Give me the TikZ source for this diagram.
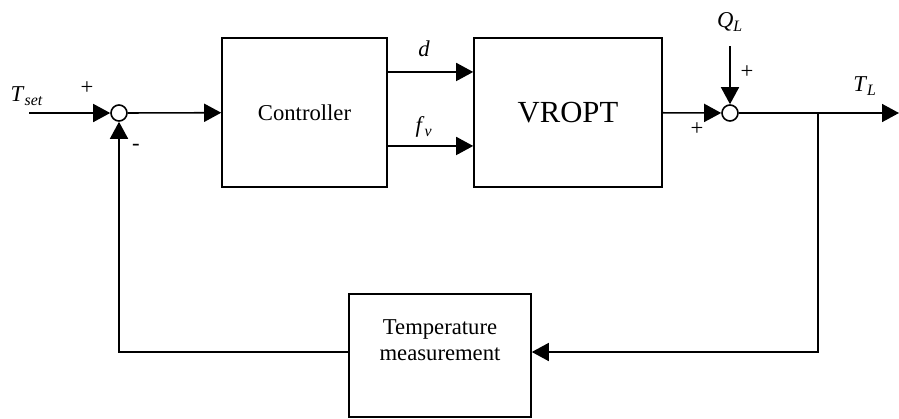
\documentclass[tikz,border=0pt]{standalone}
\usepackage{fontspec}
\setmainfont{Liberation Serif}
\usetikzlibrary{arrows.meta,positioning}
\begin{document}
\begin{tikzpicture}[x=0.75pt,y=-0.75pt,line width=1.2pt,font=\fontsize{17}{19.5}\selectfont,
  blk/.style={draw,minimum width=#1,inner sep=0pt,align=center},
  sum/.style={draw,circle,fill=white,minimum size=12pt,inner sep=0pt},
  arr/.style={-{Triangle[length=12.75pt,width=13.5pt]}}]
  \useasboundingbox (0,0) rectangle (899,418);
  \node[blk=123.75pt,minimum height=111.75pt] (ctrl) at (304.5,112.5){Controller};
  \node[blk=141pt,minimum height=111.75pt,font=\fontsize{23}{26}\selectfont] (vropt) at (568,112.5){VROPT};
  \node[blk=136.5pt,minimum height=92.25pt] (temp) at (440,355.5){Temperature\\measurement\\[4pt]};
  \node[sum] (sum1) at (119,113){};
  \node[sum] (sum2) at (730,113){};
  \coordinate (in) at (29,113);
  \coordinate (ql) at (730,46);
  \coordinate (out) at (899,113);
  \coordinate (br) at (818,113);
  \coordinate (fb) at (818,352);
  % labels
  \node (tset) at (27,96){\textit{T}\textsubscript{\textit{set}}};
  \node (dlab) at (424,49){\textit{d}};
  \node (fvlab) at (424,127){\textit{f}\textsubscript{\textit{v}}};
  \node (qlab) at (730,22){\textit{Q}\textsubscript{\textit{L}}};
  \node (tlab) at (865,86){\textit{T}\textsubscript{\textit{L}}};
  \node (p1) at (87,88){+};
  \node (m1) at (136,147){-};
  \node (p2) at (697,129){+};
  \node (p3) at (747,72){+};
  % connectors
  \draw[arr] (in) -- (sum1);
  \draw[arr] (sum1) -- (ctrl);
  \draw[arr] ([yshift=30.4pt]ctrl.east) -- ([yshift=30.4pt]vropt.west);
  \draw[arr] ([yshift=-25.1pt]ctrl.east) -- ([yshift=-25.1pt]vropt.west);
  \draw[arr] (vropt) -- (sum2);
  \draw[arr] (ql) -- (sum2);
  \draw[arr] (sum2) -- (out);
  \draw[arr] (br) |- (fb -| temp.east);
  \draw[arr] (fb -| temp.west) -| (sum1);
\end{tikzpicture}
\end{document}
